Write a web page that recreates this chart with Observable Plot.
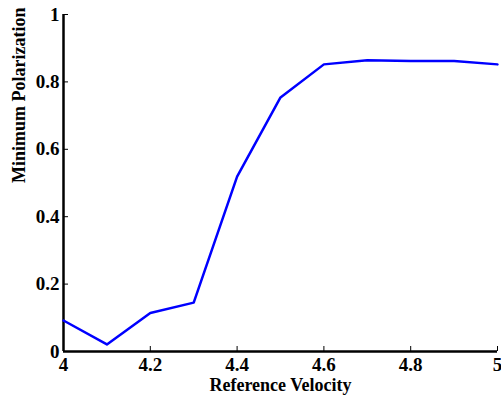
<!DOCTYPE html>
<html><head><meta charset="utf-8">
<script src="https://cdn.jsdelivr.net/npm/d3@7"></script>
<script src="https://cdn.jsdelivr.net/npm/@observablehq/plot@0.6"></script>
<style>
html,body{margin:0;padding:0;background:#fff;overflow:hidden;}
svg{display:block;}
svg, svg text{font-family:"Liberation Serif","Times New Roman",serif !important;font-weight:bold;}
</style></head><body><div id="chart"></div>
<script>
const velocity = [4.0, 4.1, 4.2, 4.3, 4.4, 4.5, 4.6, 4.7, 4.8, 4.9, 5.0];
const polarization = [0.092, 0.021, 0.114, 0.145, 0.519, 0.754, 0.852, 0.864, 0.862, 0.862, 0.852];
const xTicks = [4, 4.2, 4.4, 4.6, 4.8, 5];
const yTicks = [0, 0.2, 0.4, 0.6, 0.8, 1];
const data = velocity.map((v, i) => ({v, p: polarization[i]}));

const chart = Plot.plot({
  width: 501, height: 397,
  marginLeft: 63, marginRight: 4, marginTop: 14, marginBottom: 46,
  style: {fontSize: "18px", fontWeight: "bold", color: "black", background: "white"},
  x: {domain: [4, 5]},
  y: {domain: [0, 1]},
  marks: [
    Plot.axisX({ticks: xTicks, tickSize: -5, tickWidth: 2, tickFormat: () => "", label: null}),
    Plot.axisY({ticks: yTicks, tickSize: -5, tickWidth: 2, tickFormat: () => "", label: null}),
    Plot.text(xTicks, {x: d => d, frameAnchor: "bottom", dy: 19, text: d => String(d), fontSize: 19, fontWeight: "bold"}),
    Plot.text(yTicks, {y: d => d, frameAnchor: "left", dx: -4, textAnchor: "end", text: d => String(d), fontSize: 19, fontWeight: "bold"}),
    Plot.ruleX([4], {strokeWidth: 2.5}),
    Plot.ruleY([0], {strokeWidth: 2.5}),
    Plot.line(data, {x: "v", y: "p", stroke: "#0000ff", strokeWidth: 2.5}),
    Plot.text(["Reference Velocity"], {frameAnchor: "bottom", dy: 39, fontSize: 18, fontWeight: "bold"}),
    Plot.text(["Minimum Polarization"], {frameAnchor: "left", dx: -44, rotate: -90, fontSize: 18, fontWeight: "bold"})
  ]
});
document.getElementById("chart").appendChild(chart);
</script></body></html>
